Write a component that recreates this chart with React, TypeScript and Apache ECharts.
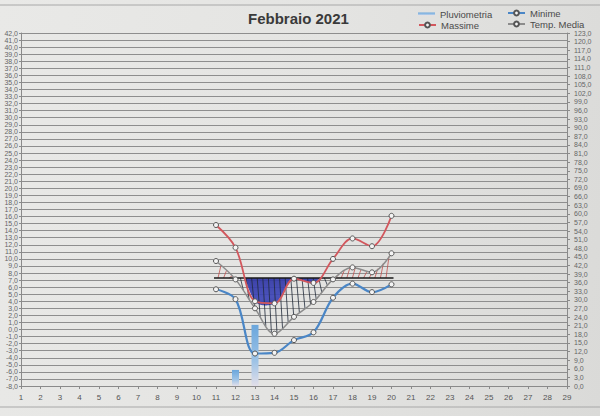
import React, { useEffect, useRef } from 'react';
import * as echarts from 'echarts';

const days = ['1', '2', '3', '4', '5', '6', '7', '8', '9', '10', '11', '12', '13', '14', '15', '16', '17', '18', '19', '20', '21', '22', '23', '24', '25', '26', '27', '28', '29'];
const tempDays = ['11', '12', '13', '14', '15', '16', '17', '18', '19', '20'];
const massime = [14.8, 11.6, 4.0, 3.7, 7.2, 6.6, 10.0, 12.9, 11.8, 16.1];
const minime = [5.7, 4.3, -3.4, -3.3, -1.5, -0.4, 4.5, 6.5, 5.3, 6.4];
const tempMedia = [9.7, 7.1, 3.0, -0.6, 1.8, 3.9, 7.1, 8.8, 8.1, 10.8];
const rainDays = ['12', '13'];
const pluviometria = [5.6, 21.3];
const refLevel = 7.3; // hand-drawn reference line
const SMOOTH = 0.35;

const FONT = 'Liberation Sans';
const fmt = (v: number) => v.toFixed(1).replace('.', ',');

function smoothPath(pts: number[][], smooth: number): number[][] {
  const out: number[][] = [pts[0]];
  let cp0 = pts[0];
  for (let i = 1; i < pts.length; i++) {
    const prev = pts[i - 1];
    const cur = pts[i];
    const next = pts[i + 1];
    let cp1 = cur;
    let nextCp0 = cur;
    if (next) {
      const vx = next[0] - prev[0];
      const vy = next[1] - prev[1];
      const l0 = Math.hypot(cur[0] - prev[0], cur[1] - prev[1]);
      const l1 = Math.hypot(next[0] - cur[0], next[1] - cur[1]);
      const r = l1 / (l0 + l1);
      cp1 = [cur[0] - vx * smooth * (1 - r), cur[1] - vy * smooth * (1 - r)];
      nextCp0 = [cur[0] + vx * smooth * r, cur[1] + vy * smooth * r];
    }
    for (let s = 1; s <= 30; s++) {
      const t = s / 30;
      const mt = 1 - t;
      const a = mt * mt * mt, b = 3 * mt * mt * t, c = 3 * mt * t * t, d = t * t * t;
      out.push([
        a * prev[0] + b * cp0[0] + c * cp1[0] + d * cur[0],
        a * prev[1] + b * cp0[1] + c * cp1[1] + d * cur[1],
      ]);
    }
    cp0 = nextCp0;
  }
  return out;
}

function yAt(poly: number[][], x: number): number | null {
  for (let i = 1; i < poly.length; i++) {
    const p = poly[i - 1], q = poly[i];
    if ((x >= p[0] && x <= q[0]) || (x <= p[0] && x >= q[0])) {
      const dx = q[0] - p[0];
      if (Math.abs(dx) < 1e-6) return p[1];
      return p[1] + ((x - p[0]) / dx) * (q[1] - p[1]);
    }
  }
  return null;
}

export default function App() {
  const ref = useRef<HTMLDivElement>(null);
  useEffect(() => {
    if (!ref.current) return;
    const chart = echarts.init(ref.current, undefined, { renderer: 'svg' });
    const idx = tempDays.map((d) => days.indexOf(d));

    const renderAnnot = (_params: any, api: any) => {
      const first = api.coord([idx[0], refLevel]);
      const last = api.coord([idx[idx.length - 1], refLevel]);
      const refY = first[1];
      const x0 = first[0];
      const x1 = last[0] + 2;
      const red = smoothPath(massime.map((v, i) => api.coord([idx[i], v])), SMOOTH);
      const grey = smoothPath(tempMedia.map((v, i) => api.coord([idx[i], v])), SMOOTH);
      const fillPts = red.map((p) => [p[0], Math.max(p[1], refY)]);
      fillPts.push([last[0], refY]);
      fillPts.push([x0, refY]);
      const children: any[] = [
        {
          type: 'polygon',
          shape: { points: fillPts },
          style: {
            fill: new echarts.graphic.LinearGradient(0, 0, 1, 1, [
              { offset: 0, color: '#2a2f9c' },
              { offset: 0.5, color: '#3e46b8' },
              { offset: 1, color: '#262a8c' },
            ]),
            opacity: 0.92,
          },
        },
      ];
      for (let x = x0 + 2; x < last[0]; x += 5.6) {
        const xb = x + 3;
        const yg = yAt(grey, xb);
        if (yg == null) continue;
        if (yg - refY > 1.5) {
          children.push({
            type: 'line',
            shape: { x1: x, y1: refY, x2: xb, y2: yg },
            style: { stroke: '#1f2a3a', lineWidth: 0.8 },
          });
        } else if (refY - yg > 1.5) {
          children.push({
            type: 'line',
            shape: { x1: x, y1: refY, x2: xb, y2: yg },
            style: { stroke: '#c0504d', lineWidth: 0.8 },
          });
        }
      }
      children.push({
        type: 'line',
        shape: { x1: x0 - 2, y1: refY, x2: x1, y2: refY },
        style: { stroke: '#1a1a1a', lineWidth: 1.4 },
      });
      return { type: 'group', children };
    };

    const lineSeries = (name: string, vals: number[], color: string, width: number) => ({
      name,
      type: 'line',
      z: 3,
      smooth: SMOOTH,
      data: tempDays.map((d, i) => [d, vals[i]]),
      symbol: 'circle',
      symbolSize: 5,
      lineStyle: { color, width },
      itemStyle: { color: '#f4f4f4', borderColor: '#555', borderWidth: 1 },
    });

    const axisLabel = {
      fontFamily: FONT,
      fontSize: 7,
      lineHeight: 7,
      color: '#666',
      formatter: fmt,
      showMinLabel: true,
      showMaxLabel: true,
    };

    const option: any = {
      animation: false,
      backgroundColor: 'transparent',
      title: {
        text: 'Febbraio 2021',
        left: 248,
        top: 11,
        padding: 0,
        textStyle: { fontFamily: FONT, fontSize: 15, fontWeight: 'bold', color: '#3a3a3a' },
      },
      legend: [
        {
          left: 418,
          top: 9,
          padding: 0,
          itemWidth: 17,
          itemHeight: 3,
          itemGap: 4,
          itemTextGap: 2,
          icon: 'rect',
          data: ['Pluviometria'],
          textStyle: { fontFamily: FONT, fontSize: 9.5, color: '#4a4a4a' },
        },
        {
          left: 418,
          top: 20,
          padding: 0,
          itemWidth: 17,
          itemHeight: 6,
          itemTextGap: 2,
          data: ['Massime'],
          textStyle: { fontFamily: FONT, fontSize: 9.5, color: '#4a4a4a' },
        },
        {
          left: 507,
          top: 8,
          padding: 0,
          orient: 'vertical',
          itemWidth: 17,
          itemHeight: 6,
          itemGap: 1,
          itemTextGap: 2,
          data: ['Minime', 'Temp. Media'],
          textStyle: { fontFamily: FONT, fontSize: 9.5, color: '#4a4a4a' },
        },
      ],
      grid: { left: 21, right: 33, top: 33, bottom: 30, containLabel: false },
      xAxis: {
        type: 'category',
        data: days,
        boundaryGap: false,
        axisLine: { onZero: false, lineStyle: { color: '#8a8a8a' } },
        axisTick: { show: true, length: 3, lineStyle: { color: '#8a8a8a' } },
        axisLabel: { fontFamily: FONT, fontSize: 8, color: '#555', margin: 7, interval: 0 },
        splitLine: { show: false },
      },
      yAxis: [
        {
          type: 'value',
          min: -8,
          max: 42,
          interval: 1,
          position: 'left',
          axisLine: { show: true, onZero: false, lineStyle: { color: '#8a8a8a' } },
          axisTick: { show: true, length: 2, lineStyle: { color: '#8a8a8a' } },
          axisLabel: { ...axisLabel, margin: 3 },
          splitLine: { show: true, lineStyle: { color: '#8e8e8e', width: 1 } },
        },
        {
          type: 'value',
          min: 0,
          max: 123,
          interval: 3,
          position: 'right',
          axisLine: { show: true, onZero: false, lineStyle: { color: '#8a8a8a' } },
          axisTick: { show: true, length: 3, lineStyle: { color: '#8a8a8a' } },
          axisLabel: { ...axisLabel, margin: 7 },
          splitLine: { show: false },
        },
      ],
      series: [
        {
          name: 'Pluviometria',
          type: 'bar',
          yAxisIndex: 1,
          z: 2,
          barWidth: 7,
          data: rainDays.map((d, i) => [d, pluviometria[i]]),
          itemStyle: {
            color: new echarts.graphic.LinearGradient(0, 0, 0, 1, [
              { offset: 0, color: '#6aa6dc' },
              { offset: 0.6, color: '#9ec3e6' },
              { offset: 1, color: '#e2dfe9' },
            ]),
          },
        },
        {
          name: 'annot',
          type: 'custom',
          z: 1,
          silent: true,
          renderItem: renderAnnot,
          data: [[tempDays[0], refLevel]],
        },
        lineSeries('Minime', minime, '#4a86c6', 2.2),
        lineSeries('Massime', massime, '#d2575d', 1.8),
        lineSeries('Temp. Media', tempMedia, '#8c8c8c', 1.5),
      ],
      graphic: [
        { type: 'line', shape: { x1: 0, y1: 5, x2: 600, y2: 5 }, style: { stroke: '#a8a8a8', lineWidth: 1 } },
        { type: 'line', shape: { x1: 0, y1: 407, x2: 600, y2: 407 }, style: { stroke: '#a8a8a8', lineWidth: 1 } },
      ],
    };
    chart.setOption(option);
    return () => chart.dispose();
  }, []);

  return (
    <div
      style={{
        position: 'fixed',
        left: 0,
        top: 0,
        width: 600,
        height: 416,
        background: 'linear-gradient(100deg, #e9e9e7 0%, #e4e4e2 50%, #dadad8 100%)',
      }}
    >
      <div ref={ref} style={{ width: 600, height: 416 }} />
    </div>
  );
}
